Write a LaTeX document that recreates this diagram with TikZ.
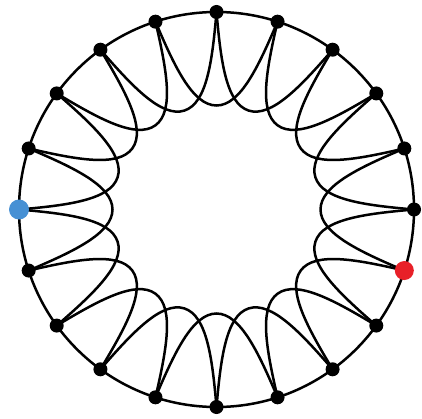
\documentclass[tikz,border=0pt]{standalone}
\usetikzlibrary{calc}
\definecolor{dotblue}{RGB}{70,144,212}
\definecolor{dotred}{RGB}{232,32,40}
\tikzset{
  dot/.style={circle,fill=black,inner sep=0pt,minimum size=14pt},
  wire/.style={line width=2.5pt,black},
}
\begin{document}
\begin{tikzpicture}[x=1pt,y=1pt]
\useasboundingbox (0,0) rectangle (422,418);
\coordinate (c) at (216.5,208.5);
\foreach \i in {0,...,19}{
  \coordinate (n\i) at ($(c)+({90-18*\i}:197.5)$);
  \coordinate (m\i) at ($(c)+({90-18*\i-18}:104)$);
}
\draw[wire] (c) circle[radius=197.5];
\foreach \i in {0,...,19}{
  \pgfmathtruncatemacro{\j}{mod(\i+2,20)}
  \pgfmathsetmacro{\a}{90-18*\i+180+5}
  \pgfmathsetmacro{\b}{90-18*\j+180-5}
  \pgfmathsetmacro{\p}{90-18*\i-18}
  \draw[wire] (n\i) .. controls +(\a:48) and +(\p+90:24) .. (m\i)
                    .. controls +(\p-90:24) and +(\b:48) .. (n\j);
}
\foreach \i in {0,...,19}{
  \ifnum\i=15
    \node[dot,fill=dotblue,minimum size=20pt] (v\i) at (n\i) {};
  \else\ifnum\i=6
    \node[dot,fill=dotred,minimum size=19pt] (v\i) at (n\i) {};
  \else
    \node[dot] (v\i) at (n\i) {};
  \fi\fi
}
\end{tikzpicture}
\end{document}
